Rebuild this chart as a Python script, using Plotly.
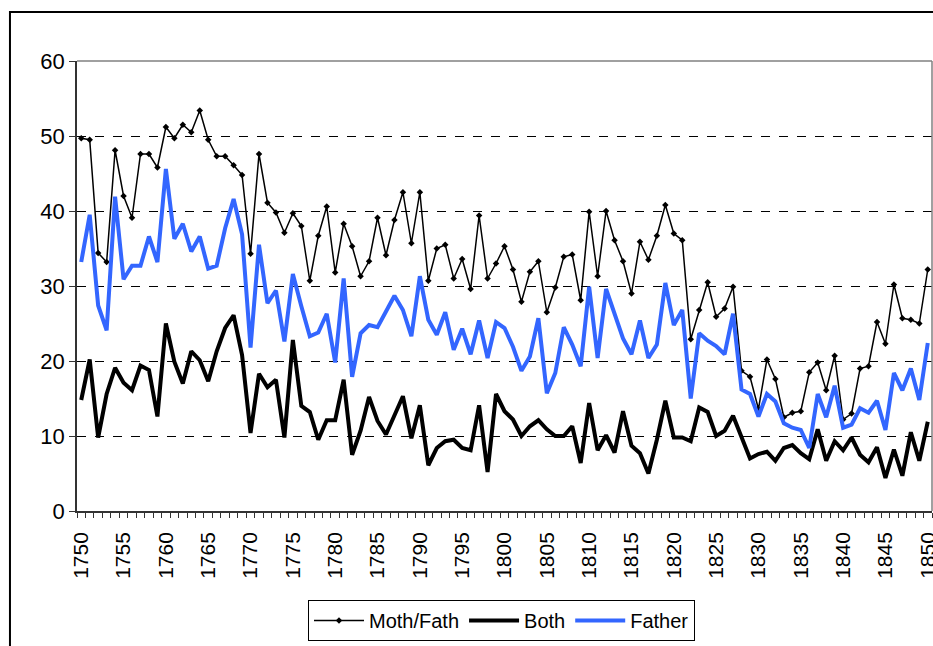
import plotly.graph_objects as go

years = list(range(1750, 1851))

moth_fath = [
    49.7, 49.5, 34.4, 33.2, 48.1, 42.0, 39.1, 47.6, 47.6, 45.8,
    51.2, 49.7, 51.5, 50.5, 53.4, 49.5, 47.3, 47.3, 46.1, 44.8,
    34.3, 47.6, 41.1, 39.8, 37.1, 39.7, 38.0, 30.7, 36.7, 40.6,
    31.8, 38.3, 35.3, 31.3, 33.3, 39.1, 34.1, 38.8, 42.5, 35.7,
    42.5, 30.7, 35.0, 35.5, 31.0, 33.6, 29.6, 39.4, 31.0, 33.0,
    35.3, 32.2, 27.9, 31.9, 33.3, 26.5, 29.8, 33.9, 34.2, 28.1,
    39.9, 31.3, 40.0, 36.1, 33.3, 29.0, 35.9, 33.5, 36.7, 40.8,
    37.0, 36.1, 22.9, 26.8, 30.5, 25.9, 27.0, 29.9, 18.7, 17.9,
    13.6, 20.2, 17.6, 12.5, 13.1, 13.3, 18.5, 19.8, 16.1, 20.7,
    12.2, 13.0, 19.0, 19.3, 25.2, 22.3, 30.2, 25.7, 25.5, 25.0,
    32.2,
]

both = [
    14.8, 20.2, 9.8, 15.6, 19.1, 17.1, 16.1, 19.4, 18.8, 12.6,
    25.0, 19.9, 17.0, 21.3, 20.1, 17.3, 21.3, 24.4, 26.1, 20.8,
    10.4, 18.3, 16.5, 17.5, 9.8, 22.8, 14.0, 13.2, 9.5, 12.1,
    12.1, 17.5, 7.5, 10.7, 15.2, 12.0, 10.2, 12.7, 15.3, 9.7,
    14.1, 6.1, 8.4, 9.3, 9.5, 8.4, 8.1, 14.1, 5.2, 15.6,
    13.3, 12.2, 10.0, 11.3, 12.1, 10.9, 10.0, 10.0, 11.3, 6.4,
    14.4, 8.1, 10.1, 7.8, 13.3, 8.7, 7.7, 5.0, 9.5, 14.7,
    9.8, 9.8, 9.3, 13.8, 13.2, 10.0, 10.7, 12.7, 9.9, 7.0,
    7.6, 7.9, 6.7, 8.4, 8.8, 7.7, 6.9, 10.9, 6.7, 9.3,
    8.1, 9.8, 7.5, 6.5, 8.5, 4.4, 8.2, 4.7, 10.5, 6.7,
    11.9,
]

father = [
    33.2, 39.5, 27.4, 24.1, 41.9, 30.9, 32.7, 32.7, 36.6, 33.2,
    45.6, 36.3, 38.3, 34.6, 36.6, 32.3, 32.7, 37.7, 41.6, 36.9,
    21.8, 35.5, 27.7, 29.4, 22.6, 31.6, 27.3, 23.3, 23.8, 26.3,
    19.8, 31.0, 17.9, 23.7, 24.8, 24.5, 26.6, 28.7, 26.8, 23.3,
    31.3, 25.5, 23.5, 26.5, 21.5, 24.3, 20.9, 25.4, 20.4, 25.2,
    24.4, 21.9, 18.7, 20.6, 25.7, 15.7, 18.4, 24.5, 22.2, 19.3,
    29.9, 20.4, 29.6, 26.4, 23.0, 20.9, 25.4, 20.4, 22.2, 30.4,
    24.8, 26.8, 15.0, 23.7, 22.7, 22.0, 20.9, 26.3, 16.2, 15.6,
    12.6, 15.6, 14.6, 11.7, 11.1, 10.8, 8.4, 15.6, 12.5, 16.7,
    11.1, 11.5, 13.7, 13.1, 14.7, 10.8, 18.4, 16.1, 19.0, 14.8,
    22.4,
]

x_tick_vals = list(range(1750, 1851, 5))
x_tick_text = [str(v) for v in x_tick_vals]
y_tick_vals = [0, 10, 20, 30, 40, 50, 60]

FONT = "Liberation Sans, Arial, sans-serif"

fig = go.Figure()
fig.add_trace(go.Scatter(
    x=years, y=moth_fath, name="Moth/Fath", mode="lines+markers",
    line=dict(color="black", width=1.5),
    marker=dict(symbol="diamond", size=5, color="black"),
))
fig.add_trace(go.Scatter(
    x=years, y=both, name="Both", mode="lines",
    line=dict(color="black", width=4),
))
fig.add_trace(go.Scatter(
    x=years, y=father, name="Father", mode="lines",
    line=dict(color="#3366FF", width=4),
))

fig.update_layout(
    width=933, height=646,
    margin=dict(l=77, r=1, t=61, b=135, pad=0, autoexpand=False),
    paper_bgcolor="white", plot_bgcolor="white",
    font=dict(family=FONT, size=21, color="black"),
    showlegend=True,
    legend=dict(
        orientation="h", x=0.4965, xanchor="center", y=-0.198, yanchor="top",
        bordercolor="black", borderwidth=1, bgcolor="white",
        font=dict(family=FONT, size=20, color="black"),
        itemwidth=50, tracegroupgap=0,
    ),
    xaxis=dict(
        range=[1749.5, 1850.5], tickmode="array", tickvals=x_tick_vals,
        ticktext=x_tick_text, tickangle=-90, ticks="outside", ticklen=11,
        tickcolor="rgba(0,0,0,0)", showgrid=False, zeroline=False,
        showline=True, linecolor="#333333", linewidth=1.5,
        ticklabeloverflow="allow", automargin=False,
        tickfont=dict(family=FONT, size=21, color="black"),
        minor=dict(ticks="outside", ticklen=5, tickcolor="#333333",
                   tick0=1749.5, dtick=1, showgrid=False),
    ),
    yaxis=dict(
        range=[0, 60], tickmode="array", tickvals=y_tick_vals,
        ticks="outside", ticklen=6, tickcolor="#333333",
        showgrid=True, gridcolor="black", griddash="dash", gridwidth=1,
        zeroline=False, showline=True, linecolor="#333333", linewidth=1.5,
        automargin=False,
        tickfont=dict(family=FONT, size=22, color="black"),
    ),
    shapes=[
        dict(type="line", xref="paper", yref="paper", x0=0, x1=1, y0=1, y1=1,
             line=dict(color="#808080", width=1.5), layer="above"),
        dict(type="line", xref="paper", yref="paper", x0=1, x1=1, y0=0, y1=1,
             line=dict(color="#808080", width=1.5), layer="above"),
        dict(type="rect", xref="paper", yref="paper",
             x0=-0.0784, x1=1.3, y0=1.1089, y1=-0.6,
             line=dict(color="black", width=2), fillcolor="rgba(0,0,0,0)",
             layer="above"),
    ],
)

fig.write_html(
    "out.html",
    config={"displayModeBar": False},
    post_script="document.body.style.margin='0';document.body.style.overflow='hidden';",
)
